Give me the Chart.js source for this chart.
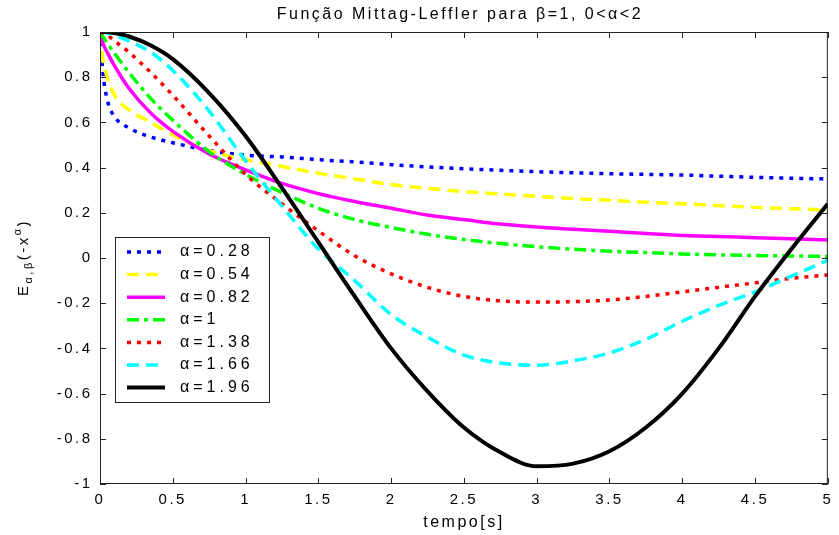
<!DOCTYPE html>
<html>
<head>
<meta charset="utf-8">
<script src="https://cdn.jsdelivr.net/npm/chart.js@4"></script>
<style>
  body { margin: 0; background: #fff; }
</style>
</head>
<body>
<canvas id="myChart" width="839" height="535"></canvas>
<script>
const FONT = "'Liberation Sans', Arial, sans-serif";
const SPACING = "2.5px";

// time samples (s)
const t = [0, 0.02, 0.05, 0.1, 0.2, 0.35, 0.5, 0.75, 1, 1.25, 1.5, 1.75, 2, 2.25, 2.5, 2.75, 3, 3.25, 3.5, 3.75, 4, 4.25, 4.5, 4.75, 5];

// E_alpha,1(-t^alpha)
const a028 = [1, 0.82, 0.70, 0.625, 0.575, 0.535, 0.51, 0.475, 0.455, 0.447, 0.435, 0.425, 0.413, 0.403, 0.395, 0.388, 0.382, 0.377, 0.373, 0.37, 0.367, 0.362, 0.357, 0.353, 0.35];
const a054 = [1, 0.88, 0.80, 0.72, 0.655, 0.60, 0.545, 0.475, 0.435, 0.405, 0.375, 0.35, 0.325, 0.308, 0.294, 0.283, 0.273, 0.263, 0.255, 0.247, 0.24, 0.232, 0.224, 0.218, 0.212];
const a082 = [1, 0.95, 0.91, 0.85, 0.75, 0.64, 0.56, 0.46, 0.39, 0.33, 0.285, 0.25, 0.22, 0.19, 0.17, 0.15, 0.137, 0.127, 0.118, 0.108, 0.10, 0.095, 0.09, 0.085, 0.08];
const a100 = [1, 0.98, 0.95, 0.905, 0.82, 0.705, 0.61, 0.47, 0.37, 0.29, 0.22, 0.17, 0.135, 0.105, 0.082, 0.064, 0.05, 0.039, 0.03, 0.024, 0.018, 0.014, 0.011, 0.009, 0.007];
const a138 = [1, 0.995, 0.985, 0.96, 0.91, 0.82, 0.72, 0.54, 0.37, 0.24, 0.12, 0.01, -0.07, -0.13, -0.17, -0.19, -0.195, -0.193, -0.186, -0.17, -0.15, -0.13, -0.11, -0.09, -0.075];
const a166 = [1, 1, 0.995, 0.985, 0.96, 0.91, 0.83, 0.65, 0.43, 0.23, 0.04, -0.10, -0.25, -0.35, -0.43, -0.465, -0.475, -0.455, -0.42, -0.36, -0.28, -0.21, -0.15, -0.08, -0.01];
const a196 = [1, 1, 1, 0.995, 0.98, 0.94, 0.88, 0.73, 0.54, 0.31, 0.07, -0.17, -0.40, -0.59, -0.75, -0.86, -0.922, -0.91, -0.855, -0.75, -0.60, -0.40, -0.17, 0.04, 0.24];

const labels = ["α=0.28", "α=0.54", "α=0.82", "α=1", "α=1.38", "α=1.66", "α=1.96"];
const xTicks = [0, 0.5, 1, 1.5, 2, 2.5, 3, 3.5, 4, 4.5, 5];
const yTicks = [-1, -0.8, -0.6, -0.4, -0.2, 0, 0.2, 0.4, 0.6, 0.8, 1];

const values = [a028, a054, a082, a100, a138, a166, a196];
const colors = ["#0000ff", "#ffff00", "#ff00ff", "#00ff00", "#ff0000", "#00ffff", "#000000"];
const dashes = [[4, 6], [12, 7], [], [12, 5, 4, 5], [4, 6], [12, 7], []];
const widths = [3.5, 3.5, 3.5, 3.5, 3.5, 3.5, 4];

const datasets = values.map((v, i) => ({
  label: labels[i],
  data: t.map((x, j) => ({ x: x, y: v[j] })),
  borderColor: colors[i],
  backgroundColor: colors[i],
  borderDash: dashes[i],
  borderWidth: widths[i],
  pointRadius: 0,
  fill: false,
  cubicInterpolationMode: "monotone",
  order: values.length - i,
}));

// matlab style: box, inward ticks, title, y label with sub/superscripts, legend box
const matlabLook = {
  id: "matlabLook",
  beforeDraw(chart) {
    chart.ctx.letterSpacing = SPACING;
  },
  afterDatasetsDraw(chart) {
    const ctx = chart.ctx;
    const a = chart.chartArea;
    const xs = chart.scales.x, ys = chart.scales.y;
    ctx.save();
    ctx.strokeStyle = "#222";
    ctx.lineWidth = 1;
    ctx.strokeRect(a.left + 0.5, a.top + 0.5, a.right - a.left - 1, a.bottom - a.top - 1);
    ctx.beginPath();
    xTicks.forEach(v => {
      const px = Math.round(xs.getPixelForValue(v)) + 0.5;
      ctx.moveTo(px, a.bottom); ctx.lineTo(px, a.bottom - 6);
      ctx.moveTo(px, a.top); ctx.lineTo(px, a.top + 6);
    });
    yTicks.forEach(v => {
      const py = Math.round(ys.getPixelForValue(v)) + 0.5;
      ctx.moveTo(a.left, py); ctx.lineTo(a.left + 6, py);
      ctx.moveTo(a.right, py); ctx.lineTo(a.right - 6, py);
    });
    ctx.stroke();
    ctx.restore();
  },
  afterDraw(chart) {
    const ctx = chart.ctx;
    const a = chart.chartArea;
    ctx.save();
    ctx.letterSpacing = SPACING;
    ctx.fillStyle = "#000";

    // title
    ctx.font = "16px " + FONT;
    ctx.textAlign = "center";
    ctx.textBaseline = "middle";
    ctx.fillText("Função Mittag-Leffler para β=1, 0<α<2", (a.left + a.right) / 2 - 4, 15);

    // y label  E_{α,β}(-x^α)
    ctx.save();
    ctx.translate(28, 296);
    ctx.rotate(-Math.PI / 2);
    ctx.textAlign = "left";
    ctx.textBaseline = "alphabetic";
    const big = "15px " + FONT, small = "11px " + FONT;
    let x = 0;
    ctx.font = big; ctx.fillText("E", x, 0); x += ctx.measureText("E").width;
    ctx.font = small; ctx.fillText("α,β", x, 4); x += ctx.measureText("α,β").width;
    ctx.font = big; ctx.fillText("(-x", x, 0); x += ctx.measureText("(-x").width;
    ctx.font = small; ctx.fillText("α", x, -7); x += ctx.measureText("α").width;
    ctx.font = big; ctx.fillText(")", x, 0);
    ctx.restore();

    // legend
    const bx = a.left + 15, by = 237, bw = 154, bh = 165;
    ctx.fillStyle = "#fff";
    ctx.fillRect(bx, by, bw, bh);
    ctx.strokeStyle = "#222";
    ctx.lineWidth = 1;
    ctx.strokeRect(bx + 0.5, by + 0.5, bw, bh);
    ctx.font = "16px " + FONT;
    ctx.letterSpacing = "4px";
    ctx.textAlign = "left";
    ctx.textBaseline = "middle";
    chart.data.datasets.forEach((d, i) => {
      const ly = by + 15 + i * 22.6;
      ctx.save();
      ctx.strokeStyle = d.borderColor;
      ctx.lineWidth = d.borderWidth;
      ctx.setLineDash(d.borderDash);
      ctx.beginPath();
      ctx.moveTo(bx + 12, ly);
      ctx.lineTo(bx + 50, ly);
      ctx.stroke();
      ctx.restore();
      ctx.fillStyle = "#000";
      ctx.fillText(d.label, bx + 65, ly);
    });
    ctx.restore();
  },
};

Chart.defaults.font.family = FONT;
Chart.defaults.color = "#000";

const ctx = document.getElementById("myChart").getContext("2d");
const mittagChart = new Chart(ctx, {
  type: "line",
  data: { datasets: datasets },
  options: {
    responsive: false,
    animation: false,
    layout: { padding: { top: 32, right: 6, left: 0, bottom: 0 } },
    plugins: {
      legend: { display: false },
      tooltip: { enabled: false },
      title: { display: false },
    },
    scales: {
      x: {
        type: "linear",
        min: 0,
        max: 5,
        grid: { display: false, drawTicks: false },
        border: { display: false },
        afterBuildTicks: s => { s.ticks = xTicks.map(v => ({ value: v })); },
        afterFit: s => { s.height = 51; },
        ticks: { font: { size: 15 }, padding: 7, maxRotation: 0, autoSkip: false, callback: v => String(v) },
        title: { display: true, text: "tempo[s]", font: { size: 16 }, padding: { top: 0, bottom: 3 } },
      },
      y: {
        type: "linear",
        min: -1,
        max: 1,
        grid: { display: false, drawTicks: false },
        border: { display: false },
        afterBuildTicks: s => { s.ticks = yTicks.map(v => ({ value: v })); },
        afterFit: s => { s.width = 100; },
        ticks: { font: { size: 15 }, padding: 7.5, autoSkip: false, callback: v => String(v) },
      },
    },
  },
  plugins: [matlabLook],
});
</script>
</body>
</html>
